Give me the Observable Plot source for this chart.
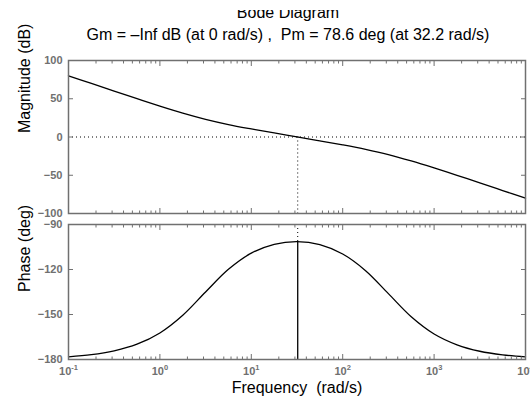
<!DOCTYPE html>
<html><head><meta charset="utf-8">
<script src="https://cdn.jsdelivr.net/npm/d3@7"></script>
<script src="https://cdn.jsdelivr.net/npm/@observablehq/plot@0.6"></script>
<style>
html,body{margin:0;padding:0;background:#fff;}
body{width:530px;height:400px;overflow:hidden;position:relative;font-family:"Liberation Sans",Arial,sans-serif;color:#000;}
.title{position:absolute;left:0;width:576px;text-align:center;font-size:16px;white-space:pre;}
#clip{position:absolute;left:0;top:10px;width:576px;height:12px;overflow:hidden;}
#clip .title{top:-5px;line-height:16px;}
#t2{top:27px;line-height:16px;}
#mag{position:absolute;left:0;top:50px;}
#phase{position:absolute;left:0;top:214px;}
svg{overflow:visible;}
</style>
</head><body>
<div id="clip"><div class="title" id="t1">Bode Diagram</div></div>
<div class="title" id="t2">Gm = –Inf dB (at 0 rad/s) ,  Pm = 78.6 deg (at 32.2 rad/s)</div>
<div id="mag"></div>
<div id="phase"></div>
<script>
// Frequency samples (rad/s) and readings from the reference
const freq = [0.1, 0.178, 0.316, 0.562, 1, 1.78, 3.16, 5.62, 10, 17.8, 31.6, 56.2, 100, 178, 316, 562, 1000, 1780, 3160, 5620, 10000];
const magnitude = [80.0, 70.0, 60.0, 50.1, 40.4, 31.2, 23.1, 16.3, 10.6, 5.3, 0.2, -5.0, -10.3, -16.1, -22.9, -31.2, -40.4, -50.1, -60.0, -70.0, -80.0];
const phase = [-178.2, -176.8, -174.2, -169.8, -162.3, -150.5, -135.0, -119.9, -109.1, -103.2, -101.4, -103.4, -109.7, -120.8, -136.1, -151.5, -163.0, -170.2, -174.5, -176.9, -178.2];
// Margins
const gainCross = [0];          // dB line
const pmFreq = [32.2];          // rad/s
const pmPhase = [-101.4];       // deg
const phaseRef = [-180];        // deg
// Ticks
const magTicks = [100, 50, 0, -50, -100];
const phaseTicks = [-90, -120, -150, -180];
const freqTicks = [0.1, 1, 10, 100, 1000, 10000];
const minorFreqTicks = d3.range(-1, 4).flatMap(e => d3.range(2, 10).map(k => k * Math.pow(10, e)));

const rows = freq.map((f, i) => ({f, m: magnitude[i], p: phase[i]}));

const GRAY = "#707070";
const FONT = "Liberation Sans, Arial, sans-serif";
const dotted = {stroke: "#000", strokeWidth: 1, strokeDasharray: "1,3"};
const tickOpts = {color: GRAY, fontWeight: "bold", fontSize: 11, fontFamily: FONT, strokeWidth: 1};

function boxAxes(yTicks) {
  return [
    Plot.axisY(yTicks, {...tickOpts, anchor: "left", tickSize: -5, tickPadding: 11}),
    Plot.axisY(yTicks, {...tickOpts, anchor: "right", tickSize: -5, tickPadding: 10, tickFormat: () => ""}),
    Plot.axisX(freqTicks, {...tickOpts, anchor: "top", tickSize: -5, tickPadding: 10, tickFormat: () => ""}),
    Plot.axisX(minorFreqTicks, {...tickOpts, anchor: "top", tickSize: -2.5, tickPadding: 5, tickFormat: () => ""}),
    Plot.axisX(minorFreqTicks, {...tickOpts, anchor: "bottom", tickSize: -2.5, tickPadding: 5, tickFormat: () => ""})
  ];
}

const magPlot = Plot.plot({
  width: 530, height: 170, marginTop: 10, marginBottom: 7, marginLeft: 68, marginRight: 5,
  style: {fontFamily: FONT, background: "transparent", overflow: "visible"},
  x: {type: "log", domain: [0.1, 10000], label: null},
  y: {domain: [-100, 100], label: null},
  marks: [
    Plot.ruleY(gainCross, dotted),
    Plot.ruleX(pmFreq, {...dotted, y1: gainCross[0], y2: -100}),
    Plot.line(rows, {x: "f", y: "m", curve: "catmull-rom", stroke: "#000", strokeWidth: 1.3}),
    Plot.frame({stroke: GRAY, strokeWidth: 1.5}),
    ...boxAxes(magTicks),
    Plot.axisX(freqTicks, {...tickOpts, anchor: "bottom", tickSize: -5, tickPadding: 10, tickFormat: () => ""}),
    Plot.text(["Magnitude (dB)"], {frameAnchor: "left", dx: -44, dy: -4, rotate: -90, fontSize: 16, fill: "#000", fontFamily: FONT})
  ]
});
document.getElementById("mag").appendChild(magPlot);

const phasePlot = Plot.plot({
  width: 530, height: 186, marginTop: 10, marginBottom: 41, marginLeft: 68, marginRight: 5,
  style: {fontFamily: FONT, background: "transparent", overflow: "visible"},
  x: {type: "log", domain: [0.1, 10000], label: null},
  y: {domain: [-180, -90], label: null},
  marks: [
    Plot.ruleY(phaseRef, dotted),
    Plot.ruleX(pmFreq, {...dotted, y1: -90, y2: pmPhase[0]}),
    Plot.ruleX(pmFreq, {stroke: "#000", strokeWidth: 1.3, y1: phaseRef[0], y2: pmPhase[0]}),
    Plot.line(rows, {x: "f", y: "p", curve: "catmull-rom", stroke: "#000", strokeWidth: 1.3}),
    Plot.frame({stroke: GRAY, strokeWidth: 1.5}),
    ...boxAxes(phaseTicks),
    Plot.axisX(freqTicks, {...tickOpts, anchor: "bottom", tickSize: -5, tickPadding: 13, tickFormat: d => String(Math.round(Math.log10(d)))}),
    Plot.text(["Phase (deg)"], {frameAnchor: "left", dx: -44, rotate: -90, fontSize: 16, fill: "#000", fontFamily: FONT}),
    Plot.text(["Frequency\u00a0 (rad/s)"], {frameAnchor: "bottom", dy: 33, fontSize: 16, fill: "#000", fontFamily: FONT})
  ]
});
document.getElementById("phase").appendChild(phasePlot);

// Render x tick labels as 10 with a superscript exponent
phasePlot.querySelectorAll('g[aria-label="x-axis tick label"] text').forEach(t => {
  const e = t.textContent;
  if (!e) return;
  t.textContent = "10";
  const ts = document.createElementNS("http://www.w3.org/2000/svg", "tspan");
  ts.setAttribute("dy", "-5");
  ts.setAttribute("font-size", "7.5");
  ts.textContent = e;
  t.appendChild(ts);
});
</script>
</body></html>
